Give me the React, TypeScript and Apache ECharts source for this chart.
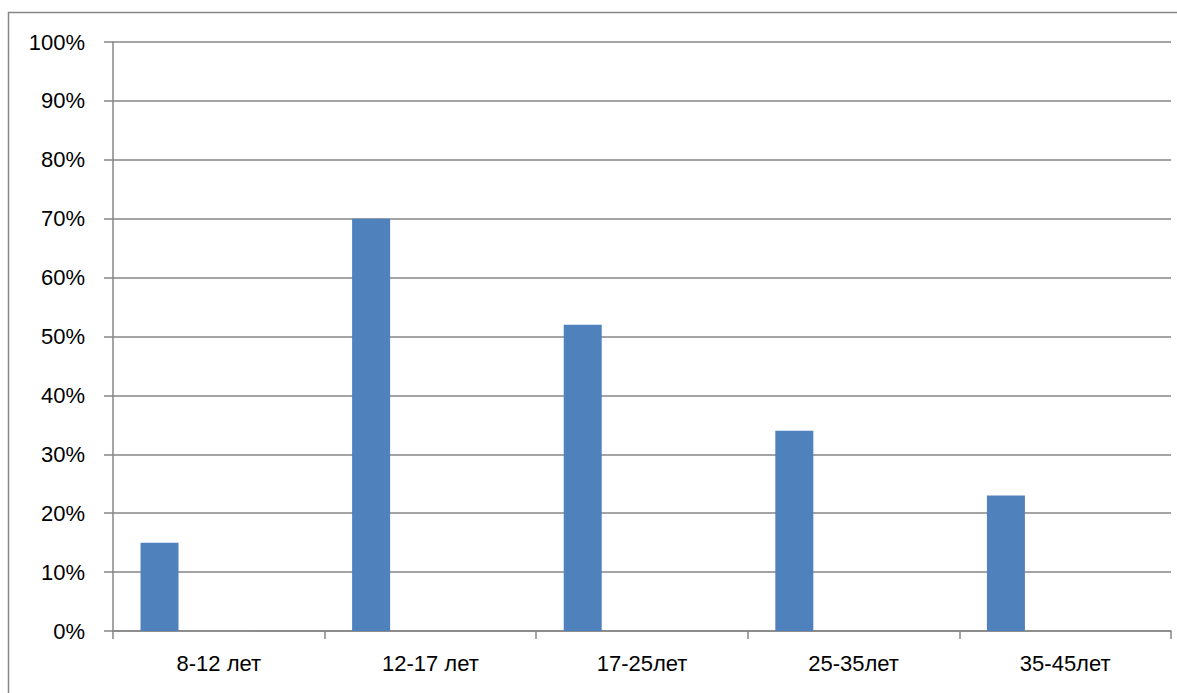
import React, { useEffect, useRef } from "react";
import * as echarts from "echarts";

const categories = ["8-12 лет", "12-17 лет", "17-25лет", "25-35лет", "35-45лет"];
const values = [15, 70, 52, 34, 23];
const emptySeries = [null, null, null, null, null];
const yTicks = { min: 0, max: 100, interval: 10 };

export default function App() {
  const ref = useRef<HTMLDivElement>(null);
  useEffect(() => {
    if (!ref.current) return;
    const chart = echarts.init(ref.current, null, { renderer: "svg" });
    const grey = "#868686";
    const font = "'Liberation Sans', Arial, sans-serif";
    chart.setOption({
      animation: false,
      backgroundColor: "#ffffff",
      grid: { left: 113, top: 42, right: 6, bottom: 62, containLabel: false },
      graphic: [
        {
          type: "rect",
          shape: { x: 8.5, y: 12.5, width: 2000, height: 2000 },
          style: { fill: "none", stroke: grey, lineWidth: 1.5 },
          silent: true,
        },
      ],
      xAxis: {
        type: "category",
        data: categories,
        axisLine: { show: true, lineStyle: { color: grey, width: 1.5 } },
        axisTick: { show: true, alignWithLabel: false, interval: 0, length: 8, lineStyle: { color: grey, width: 1.5 } },
        axisLabel: { color: "#000", fontSize: 22, fontFamily: font, margin: 21, interval: 0 },
        splitLine: { show: false },
      },
      yAxis: {
        type: "value",
        min: yTicks.min,
        max: yTicks.max,
        interval: yTicks.interval,
        axisLine: { show: true, lineStyle: { color: grey, width: 1.5 } },
        axisTick: { show: true, inside: false, length: 9, lineStyle: { color: grey, width: 1.5 } },
        axisLabel: { color: "#000", fontSize: 22, fontFamily: font, margin: 28, formatter: "{value}%" },
        splitLine: { show: true, lineStyle: { color: grey, width: 1.5 } },
      },
      series: [
        { type: "bar", data: values, barWidth: 38, barGap: "4%", itemStyle: { color: "#4F81BD" } },
        { type: "bar", data: emptySeries, barWidth: 38, barGap: "4%" },
        { type: "bar", data: emptySeries, barWidth: 38, barGap: "4%" },
        { type: "bar", data: emptySeries, barWidth: 38, barGap: "4%" },
      ],
    });
    return () => chart.dispose();
  }, []);
  return (
    <div
      ref={ref}
      style={{ position: "fixed", left: 0, top: 0, width: 1177, height: 693 }}
    />
  );
}
